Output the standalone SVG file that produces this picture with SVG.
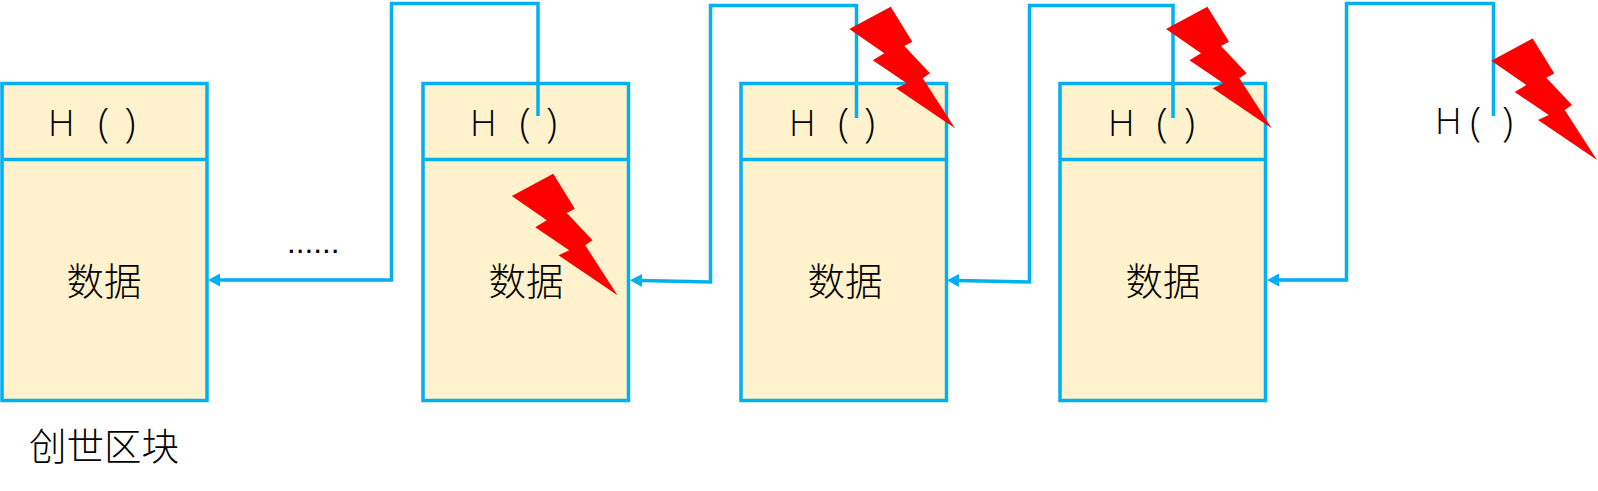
<svg xmlns="http://www.w3.org/2000/svg" width="1598" height="491" viewBox="0 0 1598 491">
<style>
.b{fill:#FFF2CC;stroke:#00B0F0;stroke-width:3.500}
.d{stroke:#00B0F0;stroke-width:3.500;fill:none}
.c{stroke:#00B0F0;stroke-width:3.500;fill:none;stroke-linejoin:miter;marker-end:url(#a)}
text{font-family:"Noto Sans CJK SC","Noto Sans",sans-serif;font-size:37.500px;fill:#000;font-weight:300}
.h{font-family:"Open Sans","Noto Sans",sans-serif;font-weight:300;font-size:37px}
.p{font-size:41px}
.m{text-anchor:middle}
.z{fill:#FF0000}
</style>
<defs>
<marker id="a" markerUnits="userSpaceOnUse" markerWidth="12" markerHeight="13" refX="1" refY="6.5" orient="auto"><path d="M0 6.5L12 0V13Z" transform="rotate(180 6 6.5)" fill="#00B0F0"/></marker>
<polygon id="bolt" points="890.7,6.7 912.3,41.7 904.3,46 930,73.3 922.7,78.3 955,128.3 896,88.3 906.7,83.3 872.7,60.3 884.3,53.3 849.3,29"/>
</defs>
<g id="block1"><rect class="b" x="2" y="83.5" width="205" height="317"/><path class="d" d="M2 159.5H207"/><text class="h" x="48" y="136">H<tspan class="p" x="98" y="136.500">(</tspan><tspan class="p" x="124.500" y="136.500">)</tspan></text><text class="m" x="104" y="294.500">数据</text></g>
<g id="block2"><rect class="b" x="423" y="83.5" width="205.500" height="317"/><path class="d" d="M423 159.500H628.500"/><text class="h" x="470" y="136">H<tspan class="p" x="519.500" y="136.500">(</tspan><tspan class="p" x="546" y="136.500">)</tspan></text><text class="m" x="526" y="294.500">数据</text></g>
<g id="block3"><rect class="b" x="741" y="83.5" width="205.500" height="317"/><path class="d" d="M741 159.500H946.500"/><text class="h" x="789" y="136">H<tspan class="p" x="838" y="136.500">(</tspan><tspan class="p" x="864" y="136.500">)</tspan></text><text class="m" x="845" y="294.500">数据</text></g>
<g id="block4"><rect class="b" x="1060" y="83.5" width="205.500" height="317"/><path class="d" d="M1060 159.500H1265.500"/><text class="h" x="1108" y="136">H<tspan class="p" x="1156.500" y="136.500">(</tspan><tspan class="p" x="1184" y="136.500">)</tspan></text><text class="m" x="1163" y="294.500">数据</text></g>
<g id="labels"><text class="h" x="1435" y="134">H<tspan class="p" x="1470" y="136">(</tspan><tspan class="p" x="1502" y="136">)</tspan></text><text x="287" y="253" style="font-family:'Liberation Sans',sans-serif;font-size:31.500px">......</text><text class="m" x="104" y="460">创世区块</text></g>
<g id="connectors">
<path class="c" d="M538 116V3.500H391.500V280H219"/>
<path class="c" d="M856.500 118V5.500H710.500V282L641 280.500"/>
<path class="c" d="M1173 118V5.500H1029.500V282L958 280.500"/>
<path class="c" d="M1493.500 116V3.500H1346.500V280H1278"/>
</g>
<g id="bolts">
<use class="z" href="#bolt" transform="translate(-337.500 167)"/>
<use class="z" href="#bolt"/>
<use class="z" href="#bolt" transform="translate(316.700 0)"/>
<use class="z" href="#bolt" transform="translate(642 31.700)"/>
</g>
</svg>
